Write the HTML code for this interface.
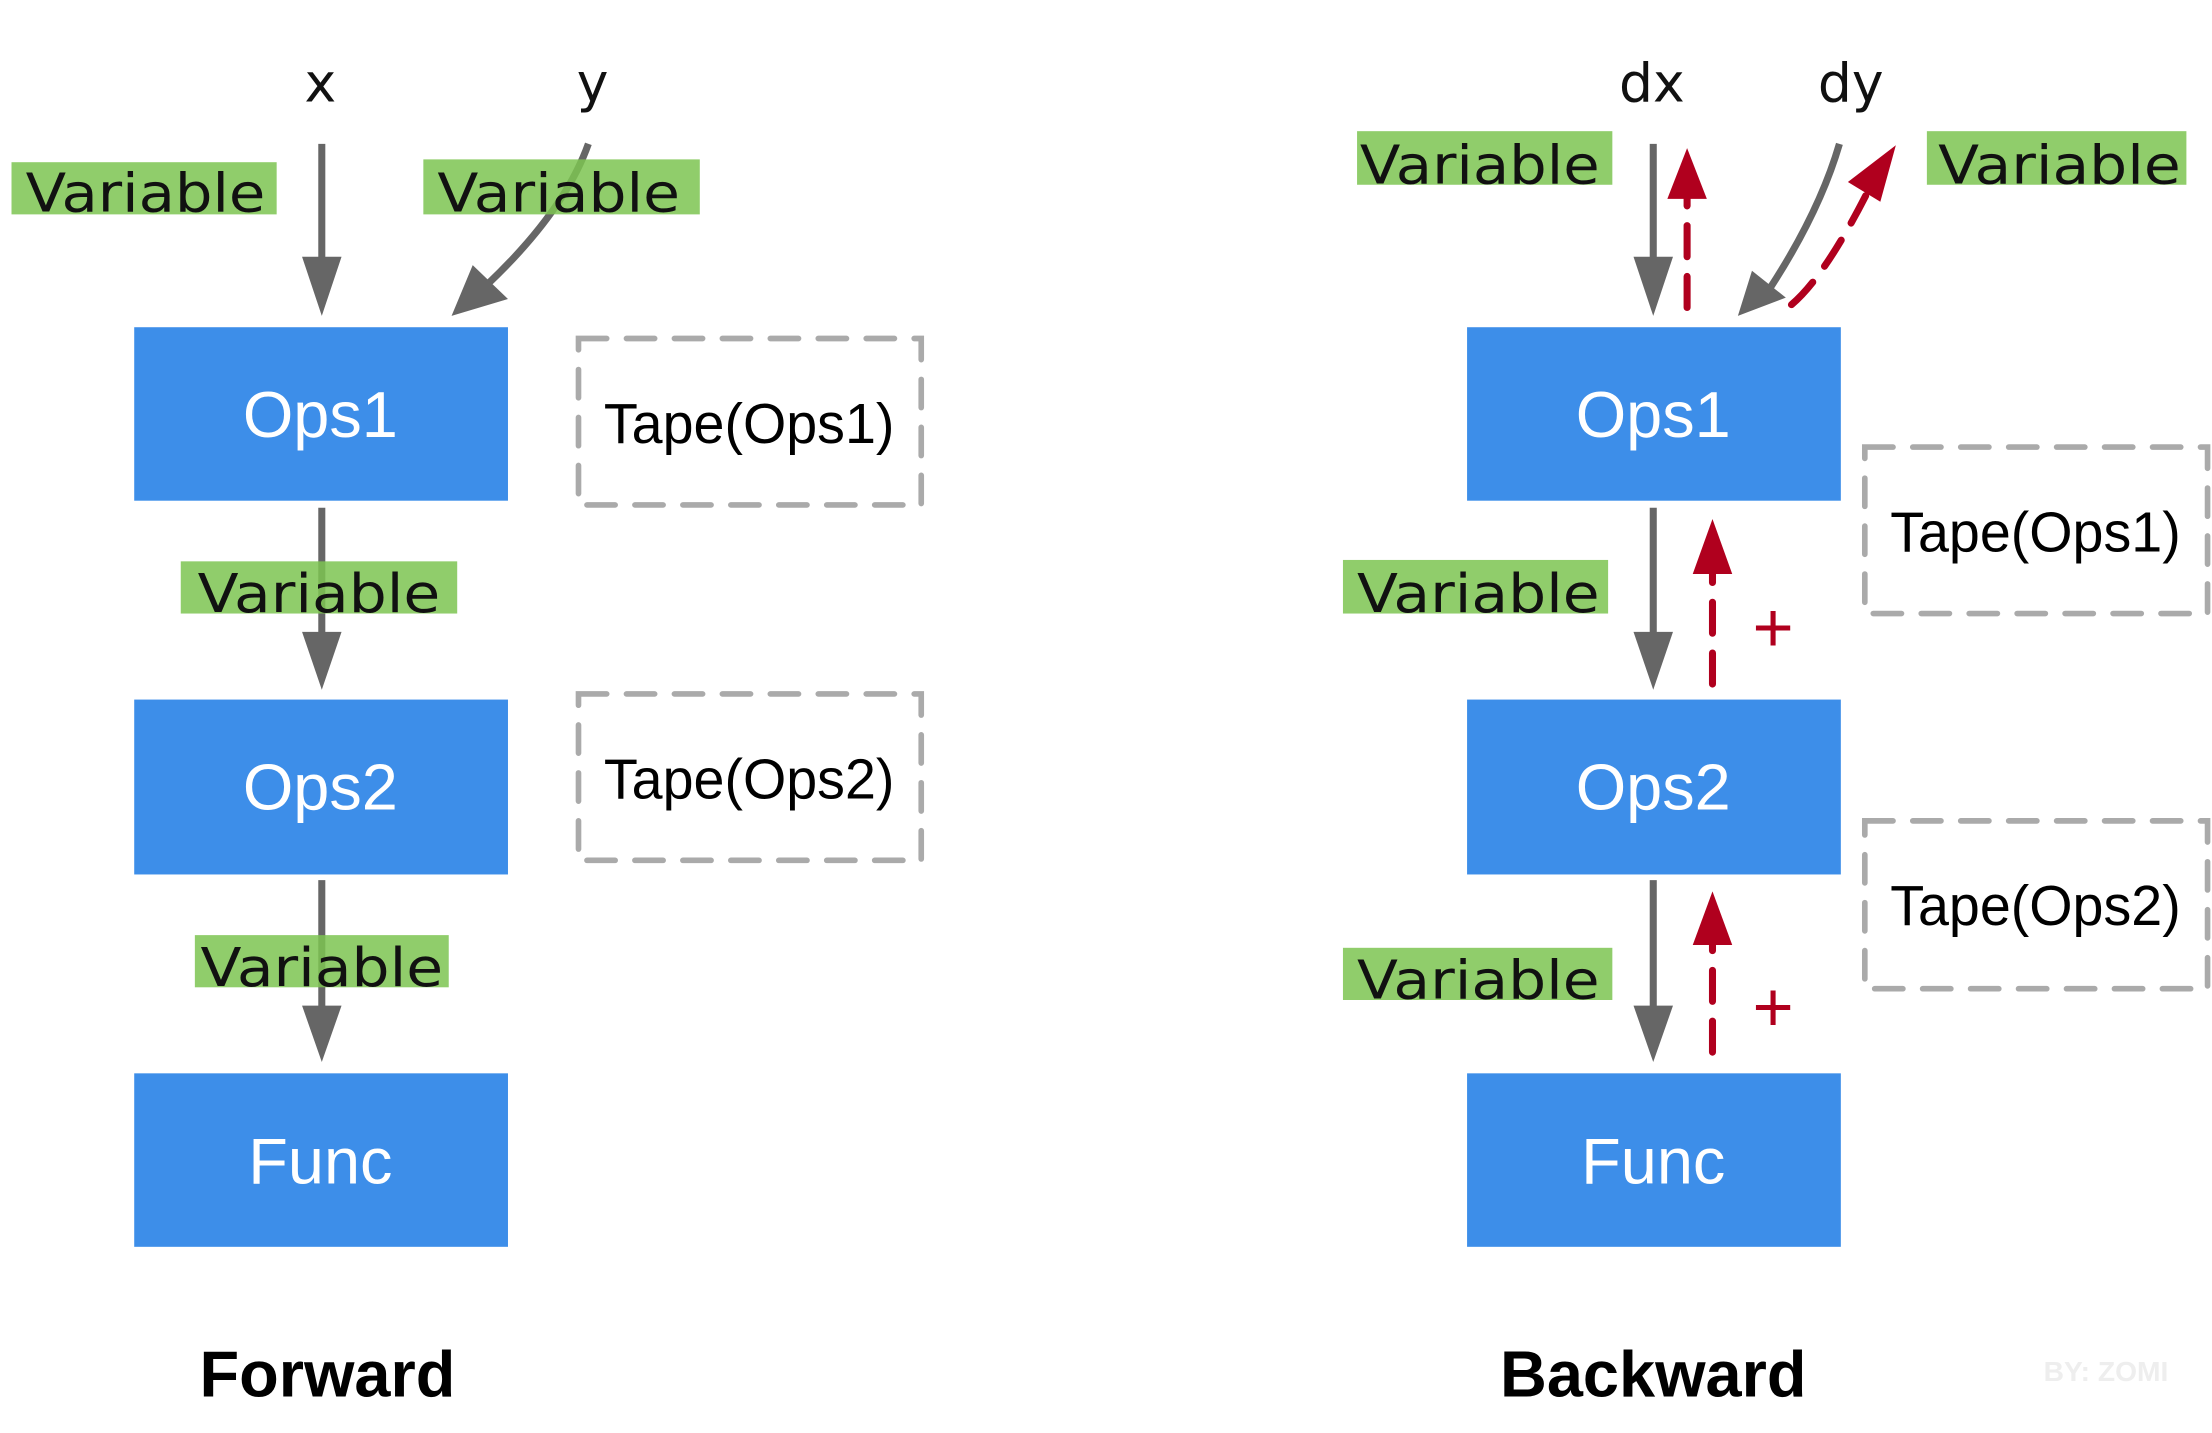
<!DOCTYPE html>
<html><head><meta charset="utf-8"><style>html,body{margin:0;padding:0;background:#fff}svg{display:block}</style></head>
<body>
<svg width="2212" height="1433" viewBox="0 0 1568 1016" xmlns="http://www.w3.org/2000/svg">
<style>
.box{fill:#3d8ee9}
.bt{font-family:"Liberation Sans",sans-serif;font-size:46px;fill:#fff;text-anchor:middle}
.hw{font-family:"DejaVu Sans",sans-serif;font-size:38px;fill:#111;text-anchor:middle}
.var{font-family:"DejaVu Sans",sans-serif;font-size:38px;fill:#111}
.hl{fill:#7cc451;opacity:.85}
.tape{fill:none;stroke:#aaa;stroke-width:4;stroke-dasharray:20,14;stroke-linecap:round}
.tt{font-family:"Liberation Sans",sans-serif;font-size:40px;fill:#000;text-anchor:middle}
.g{stroke:#666;stroke-width:5;fill:none}
.r{stroke:#b0001e;stroke-width:5;fill:none;stroke-dasharray:22,14;stroke-linecap:round}
</style>
<rect class="box" x="95" y="232" width="265" height="123"/>
<rect class="box" x="95" y="496" width="265" height="124"/>
<rect class="box" x="95" y="761" width="265" height="123"/>
<rect class="box" x="1040" y="232" width="265" height="123"/>
<rect class="box" x="1040" y="496" width="265" height="124"/>
<rect class="box" x="1040" y="761" width="265" height="123"/>
<text class="bt" x="227" y="310">Ops1</text>
<text class="bt" x="227" y="574">Ops2</text>
<text class="bt" x="227" y="839">Func</text>
<text class="bt" x="1172" y="310">Ops1</text>
<text class="bt" x="1172" y="574">Ops2</text>
<text class="bt" x="1172" y="839">Func</text>
<rect class="tape" x="410" y="240" width="243" height="118"/>
<rect class="tape" x="410" y="492" width="243" height="118"/>
<rect class="tape" x="1322" y="317" width="243" height="118"/>
<rect class="tape" x="1322" y="582" width="243" height="119"/>
<text class="tt" x="531" y="314" textLength="206" lengthAdjust="spacingAndGlyphs">Tape(Ops1)</text>
<text class="tt" x="531" y="566" textLength="206" lengthAdjust="spacingAndGlyphs">Tape(Ops2)</text>
<text class="tt" x="1443" y="391" textLength="206" lengthAdjust="spacingAndGlyphs">Tape(Ops1)</text>
<text class="tt" x="1443" y="656" textLength="206" lengthAdjust="spacingAndGlyphs">Tape(Ops2)</text>
<line class="g" x1="228" y1="102" x2="228" y2="190"/>
<polygon fill="#666" points="214,182 242,182 228,224"/>
<path class="g" d="M417,102 Q400,150 345,202"/>
<polygon fill="#666" points="335,188 360,212 320,224"/>
<line class="g" x1="228" y1="360" x2="228" y2="455"/>
<polygon fill="#666" points="214,448 242,448 228,489"/>
<line class="g" x1="228" y1="624" x2="228" y2="720"/>
<polygon fill="#666" points="214,713 242,713 228,753"/>
<line class="g" x1="1172" y1="102" x2="1172" y2="190"/>
<polygon fill="#666" points="1158,182 1186,182 1172,224"/>
<path class="g" d="M1304,102 Q1290,150 1255,204"/>
<polygon fill="#666" points="1242,192 1266,211 1232,224"/>
<line class="g" x1="1172" y1="360" x2="1172" y2="455"/>
<polygon fill="#666" points="1158,448 1186,448 1172,489"/>
<line class="g" x1="1172" y1="624" x2="1172" y2="720"/>
<polygon fill="#666" points="1158,713 1186,713 1172,753"/>
<line class="r" x1="1196" y1="218" x2="1196" y2="140"/>
<polygon fill="#b0001e" points="1182,141 1210,141 1196,105"/>
<path class="r" d="M1270,216 Q1295,195 1328,128"/>
<polygon fill="#b0001e" points="1310,129 1333,143 1344,103"/>
<line class="r" x1="1214" y1="485" x2="1214" y2="405"/>
<polygon fill="#b0001e" points="1200,407 1228,407 1214,368"/>
<line class="r" x1="1214" y1="746" x2="1214" y2="670"/>
<polygon fill="#b0001e" points="1200,670 1228,670 1214,632"/>
<text x="1257" y="462" font-family="Liberation Sans,sans-serif" font-size="50" fill="#b0001e" text-anchor="middle">+</text>
<text x="1257" y="731" font-family="Liberation Sans,sans-serif" font-size="50" fill="#b0001e" text-anchor="middle">+</text>
<rect class="hl" x="8" y="115" width="188" height="37"/>
<text class="var" x="18" y="150" textLength="170" lengthAdjust="spacingAndGlyphs">Variable</text>
<rect class="hl" x="300" y="113" width="196" height="39"/>
<text class="var" x="310" y="150" textLength="172" lengthAdjust="spacingAndGlyphs">Variable</text>
<rect class="hl" x="128" y="398" width="196" height="37"/>
<text class="var" x="140" y="434" textLength="172" lengthAdjust="spacingAndGlyphs">Variable</text>
<rect class="hl" x="138" y="663" width="180" height="37"/>
<text class="var" x="142" y="699" textLength="172" lengthAdjust="spacingAndGlyphs">Variable</text>
<rect class="hl" x="962" y="93" width="181" height="38"/>
<text class="var" x="964" y="130" textLength="170" lengthAdjust="spacingAndGlyphs">Variable</text>
<rect class="hl" x="1366" y="93" width="184" height="38"/>
<text class="var" x="1374" y="130" textLength="172" lengthAdjust="spacingAndGlyphs">Variable</text>
<rect class="hl" x="952" y="397" width="188" height="38"/>
<text class="var" x="962" y="434" textLength="172" lengthAdjust="spacingAndGlyphs">Variable</text>
<rect class="hl" x="952" y="672" width="191" height="37"/>
<text class="var" x="962" y="708" textLength="172" lengthAdjust="spacingAndGlyphs">Variable</text>
<text class="hw" x="227" y="72">x</text>
<text class="hw" x="420" y="72">y</text>
<text class="hw" x="1171" y="72">dx</text>
<text class="hw" x="1312" y="72">dy</text>
<text x="232" y="990" font-family="Liberation Sans,sans-serif" font-weight="bold" font-size="46" fill="#000" text-anchor="middle">Forward</text>
<text x="1172" y="990" font-family="Liberation Sans,sans-serif" font-weight="bold" font-size="46" fill="#000" text-anchor="middle">Backward</text>
<text x="1493" y="979" font-family="Liberation Sans,sans-serif" font-weight="bold" font-size="20" fill="#eee" text-anchor="middle">BY: ZOMI</text>
</svg>
</body></html>
